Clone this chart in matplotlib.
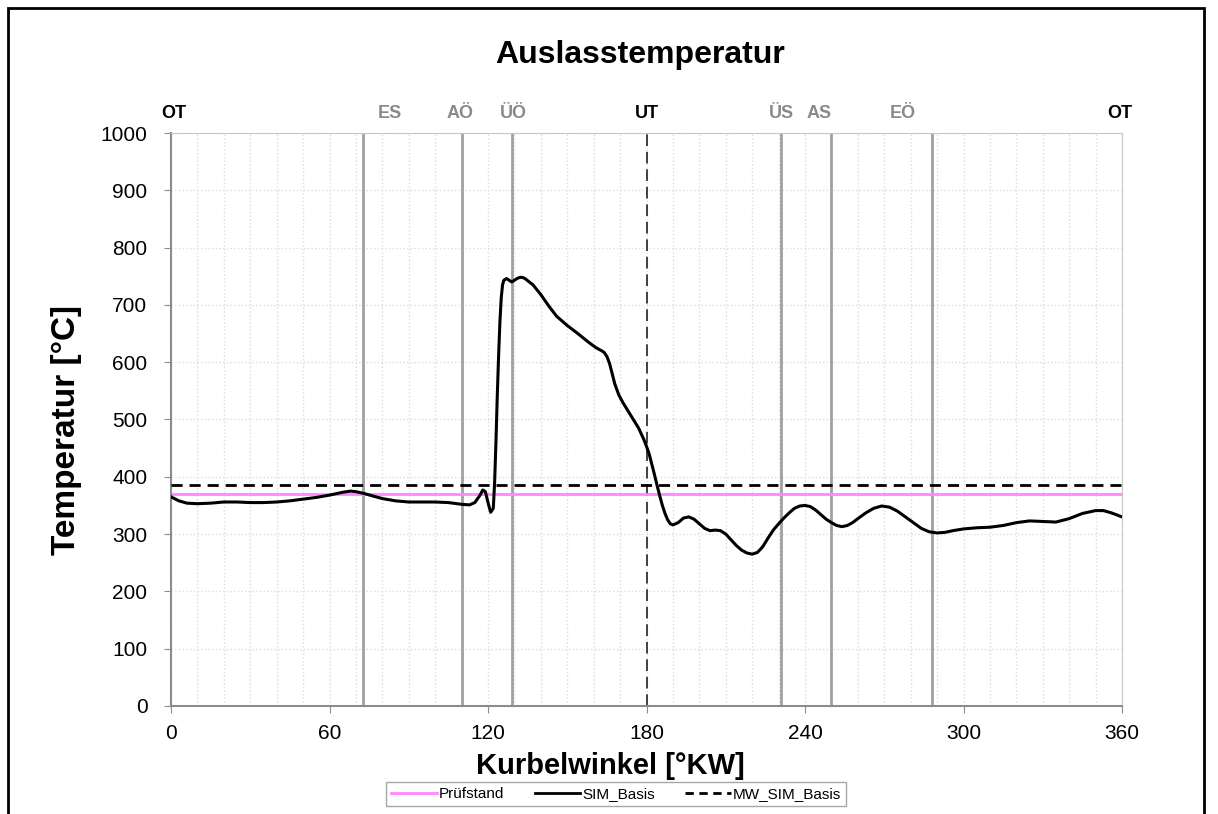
import numpy as np
import matplotlib.pyplot as plt
from matplotlib.patches import Rectangle
from matplotlib.lines import Line2D

plt.rcParams['font.family'] = ['Liberation Sans', 'DejaVu Sans']

# Kurbelwinkel [°KW] und Temperatur SIM_Basis [°C]
kw = [0, 3, 6, 10, 15, 20, 25, 30, 35, 40, 45, 50, 55, 60, 65, 68, 70, 73, 76, 80,
      85, 90, 95, 100, 105, 110, 113, 115, 117, 118, 119, 120, 121, 122, 122.5, 123, 123.5,
      124, 124.5, 125, 125.5, 126, 127, 128, 129, 130, 131, 132, 133, 134, 137, 140, 143,
      146, 150, 154, 158, 161, 163, 164, 165, 166, 167, 168, 169.5, 171, 173, 175, 177,
      179, 180, 181, 182, 183, 184, 185, 186, 187, 188, 189, 190, 192, 194, 196, 198, 200,
      202, 204, 206, 208, 210, 212, 214, 216, 218, 220, 222, 224, 226, 228, 230, 232, 234,
      236, 238, 240, 242, 244, 246, 248, 250, 252, 254, 256, 258, 260, 263, 266, 269, 272,
      275, 278, 281, 284, 287, 290, 293, 296, 300, 305, 310, 315, 320, 325, 330, 335, 340,
      345, 350, 353, 356, 360]
sim_basis = [365, 358, 354, 353, 354, 356, 356, 355, 355, 356, 358, 361, 364, 368, 373, 375, 374, 371, 367, 362,
             358, 356, 356, 356, 355, 352, 351, 355, 368, 377, 374, 355, 338, 345, 390, 460, 540,
             610, 670, 712, 735, 743, 746, 743, 740, 743, 746, 748, 748, 746, 735, 718, 698,
             680, 664, 650, 635, 625, 620, 617, 610, 598, 580, 562, 543, 530, 515, 500, 485,
             465, 453, 440, 422, 404, 385, 367, 350, 336, 325, 318, 316, 320, 328, 330, 326, 318,
             310, 306, 307, 306, 300, 290, 280, 272, 267, 265, 268, 278, 293, 307, 318, 328, 337,
             345, 349, 350, 348, 342, 334, 326, 320, 315, 313, 315, 320, 327, 337, 345, 349, 347,
             340, 330, 320, 310, 304, 302, 303, 306, 309, 311, 312, 315, 320, 323, 322, 321, 327,
             336, 341, 341, 337, 330]
pruefstand = 370
mw_sim_basis = 386

# Steuerzeiten
events = ['ES', 'AÖ', 'ÜÖ', 'ÜS', 'AS', 'EÖ']
event_kw = [72.5, 110, 129, 231, 250, 288]
label_kw = [83, 109.5, 129.5, 231, 245.5, 277]

fig = plt.figure(figsize=(12.18, 8.14), dpi=100)
ax = fig.add_axes([0.1404, 0.1327, 0.7808, 0.7039])

# Rahmen um die Grafik
fig.patches.append(Rectangle((8 / 1218, -0.05), 1196 / 1218, 1.05 - 8 / 814,
                             transform=fig.transFigure, fill=False,
                             edgecolor='black', linewidth=2))

ax.set_xlim(0, 360)
ax.set_ylim(0, 1000)
ax.set_xticks(np.arange(0, 361, 60))
ax.set_xticks(np.arange(0, 361, 10), minor=True)
ax.set_yticks(np.arange(0, 1001, 100))
ax.grid(which='minor', axis='x', color='#dcdcdc', linestyle=':', linewidth=1)
ax.grid(which='major', axis='x', color='#dcdcdc', linestyle=':', linewidth=1)
ax.grid(which='major', axis='y', color='#dcdcdc', linestyle=':', linewidth=1)
ax.set_axisbelow(True)

for x in event_kw:
    ax.axvline(x, color='#a0a0a0', linewidth=2, zorder=1)
ax.axvline(180, color='#404040', linewidth=1.4, linestyle=(0, (6, 3)), zorder=1)

ax.axhline(pruefstand, color='#ff88ff', linewidth=2, zorder=2)
ax.plot(kw, sim_basis, color='black', linewidth=2.2, zorder=3)
ax.axhline(mw_sim_basis, color='black', linewidth=2, linestyle=(0, (4, 2.5)), zorder=3)

for name, x in zip(events, label_kw):
    ax.text(x, 1.02, name, transform=ax.get_xaxis_transform(), ha='center',
            va='bottom', fontsize=13, fontweight='bold', color='#8a8a8a')
for x in [1, 359, 180]:
    ax.text(x, 1.02, 'UT' if x == 180 else 'OT', transform=ax.get_xaxis_transform(),
            ha='center', va='bottom', fontsize=13, fontweight='bold', color='black')

for s in ['top', 'right']:
    ax.spines[s].set_color('#c8c8c8')
for s in ['left', 'bottom']:
    ax.spines[s].set_color('#8c8c8c')
    ax.spines[s].set_linewidth(1.5)
ax.tick_params(axis='both', which='major', labelsize=15, length=5, color='#8c8c8c')
ax.tick_params(axis='y', which='major', pad=12)
ax.tick_params(axis='x', which='major', pad=8)
ax.tick_params(axis='x', which='minor', length=0)

fig.text(640 / 1218, 1 - 55 / 814, 'Auslasstemperatur', fontsize=23,
         fontweight='bold', ha='center', va='center')
fig.text(610 / 1218, 1 - 766 / 814, 'Kurbelwinkel [°KW]', fontsize=21,
         fontweight='bold', ha='center', va='center')
fig.text(67 / 1218, 1 - 430 / 814, 'Temperatur [°C]', fontsize=24,
         fontweight='bold', ha='center', va='center', rotation=90)

handles = [Line2D([], [], color='#ff88ff', linewidth=2),
           Line2D([], [], color='black', linewidth=2),
           Line2D([], [], color='black', linewidth=2, linestyle=(0, (3, 2)))]
fig.legend(handles, ['Prüfstand', 'SIM_Basis', 'MW_SIM_Basis'], loc='center',
           bbox_to_anchor=(616 / 1218, 1 - 794 / 814), ncol=3, fontsize=11,
           frameon=True, fancybox=False, edgecolor='#909090', handlelength=3.0,
           handletextpad=0.1, columnspacing=2.0, borderpad=0.35)

fig.savefig('out.png', dpi=100)
